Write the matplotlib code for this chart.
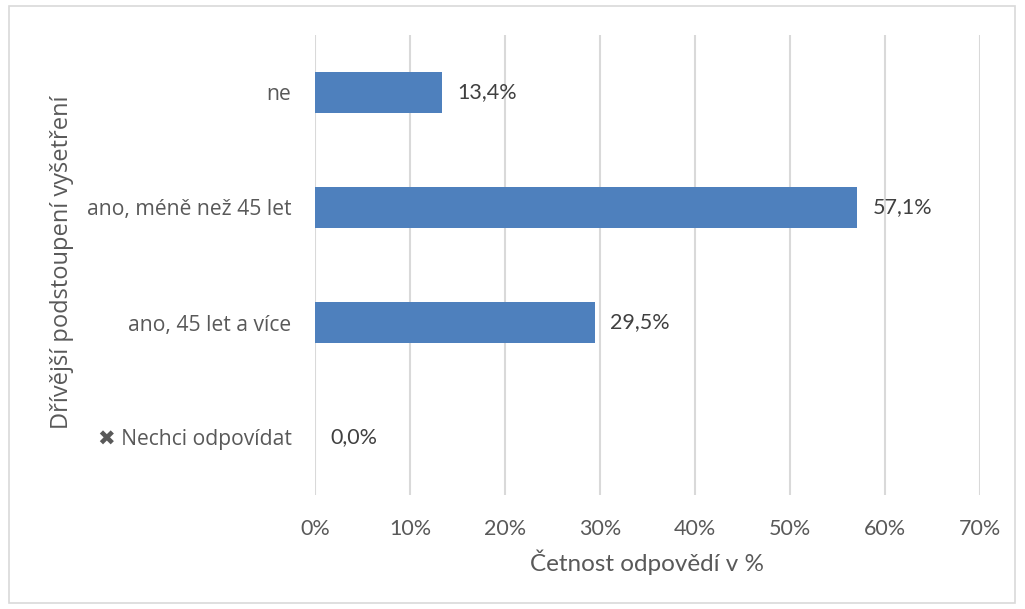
import matplotlib
matplotlib.use("Agg")
import matplotlib.pyplot as plt
from matplotlib.patches import Rectangle

categories = ["ne", "ano, méně než 45 let", "ano, 45 let a více", "✖ Nechci odpovídat"]
values = [13.4, 57.1, 29.5, 0.0]
value_labels = ["13,4%", "57,1%", "29,5%", "0,0%"]
xticks = [0, 10, 20, 30, 40, 50, 60, 70]
xtick_labels = ["0%", "10%", "20%", "30%", "40%", "50%", "60%", "70%"]
xlabel = "Četnost odpovědí v %"
ylabel = "Dřívější podstoupení vyšetření"

txt = "#595959"
bar_color = "#4E80BD"
fam = ["Open Sans", "DejaVu Sans"]
fam2 = ["Lato", "DejaVu Sans"]

fig = plt.figure(figsize=(10.25, 6.09), dpi=100)
fig.patches.append(Rectangle((9/1025, 1-603/609), 1006/1025, 597/609, transform=fig.transFigure,
                             fill=False, edgecolor="#D9D9D9", linewidth=1.2))
ax = fig.add_axes([315/1025, 1-495/609, 665/1025, 460/609])

ypos = list(range(len(categories)))
ax.barh(ypos, values, height=0.35, color=bar_color, zorder=3)
ax.set_ylim(len(categories)-0.5, -0.5)
ax.set_xlim(0, 70)
ax.set_xticks(xticks)
ax.set_xticklabels(xtick_labels, fontsize=15.5, color=txt, family=fam2)
ax.set_yticks(ypos)
ax.set_yticklabels(categories, fontsize=15.2, color=txt, family=fam)
ax.tick_params(axis="both", length=0)
ax.tick_params(axis="x", pad=17)
ax.tick_params(axis="y", pad=17)
ax.grid(axis="x", color="#D9D9D9", linewidth=1.5, zorder=0)
for s in ax.spines.values():
    s.set_visible(False)

for y, v, lab in zip(ypos, values, value_labels):
    ax.annotate(lab, (v, y), xytext=(15, 0), textcoords="offset pixels",
                va="center", ha="left", fontsize=15.5, color="#404040", family=fam2)

ax.set_xlabel(xlabel, fontsize=17.5, color=txt, family=fam2, labelpad=8)
fig.text(62/1025, 1-262/609, ylabel, rotation=90, ha="center", va="center", fontsize=17,
         color=txt, family=fam)

fig.savefig("out.png", dpi=100)
